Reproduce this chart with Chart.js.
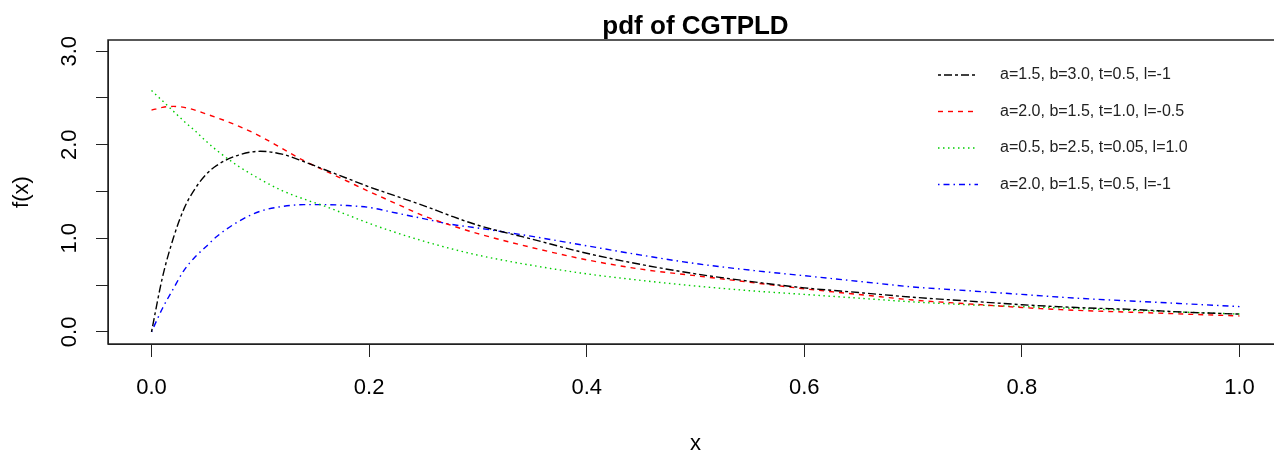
<!DOCTYPE html>
<html>
<head>
<meta charset="utf-8">
<script src="https://cdn.jsdelivr.net/npm/chart.js@4"></script>
<style>
html, body { margin: 0; padding: 0; background: #fff; overflow: hidden; }
#wrap { width: 1274px; height: 455px; overflow: hidden; }
</style>
</head>
<body>
<div id="wrap"><canvas id="chart1" width="1300" height="455"></canvas></div>
<script>
const xs = [0, 0.01, 0.02, 0.03, 0.04, 0.05, 0.06, 0.08, 0.10, 0.12, 0.14, 0.16, 0.18, 0.20, 0.225, 0.25, 0.275,
    0.30, 0.35, 0.40, 0.45, 0.50, 0.55, 0.60, 0.65, 0.70, 0.75, 0.80, 0.85, 0.90, 0.95, 1.00];

const black_y = [0, 0.58, 1.0, 1.32, 1.53, 1.68, 1.78, 1.89, 1.93, 1.90, 1.82, 1.73, 1.64, 1.55, 1.45, 1.35, 1.24,
    1.14, 0.99, 0.84, 0.72, 0.62, 0.54, 0.47, 0.42, 0.37, 0.33, 0.29, 0.26, 0.24, 0.21, 0.19];
const red_y = [2.37, 2.40, 2.41, 2.40, 2.37, 2.33, 2.29, 2.20, 2.09, 1.96, 1.83, 1.72, 1.61, 1.50, 1.37, 1.24, 1.14,
    1.05, 0.90, 0.77, 0.67, 0.60, 0.53, 0.46, 0.40, 0.34, 0.30, 0.26, 0.23, 0.21, 0.19, 0.17];
const green_y = [2.58, 2.47, 2.36, 2.25, 2.15, 2.04, 1.94, 1.77, 1.63, 1.51, 1.42, 1.34, 1.25, 1.16, 1.06, 0.97, 0.89,
    0.82, 0.71, 0.62, 0.55, 0.49, 0.44, 0.40, 0.36, 0.32, 0.29, 0.27, 0.25, 0.23, 0.21, 0.19];
const blue_y = [0, 0.25, 0.46, 0.66, 0.80, 0.91, 1.02, 1.18, 1.29, 1.34, 1.36, 1.36, 1.35, 1.33, 1.27, 1.21, 1.15,
    1.11, 1.02, 0.92, 0.82, 0.73, 0.66, 0.60, 0.54, 0.48, 0.44, 0.40, 0.36, 0.33, 0.30, 0.27];

const labels = ['a=1.5, b=3.0, t=0.5, l=-1', 'a=2.0, b=1.5, t=1.0, l=-0.5', 'a=0.5, b=2.5, t=0.05, l=1.0', 'a=2.0, b=1.5, t=0.5, l=-1'];
const xTicks = [0, 0.2, 0.4, 0.6, 0.8, 1.0];
const yTicks = [0, 0.5, 1.0, 1.5, 2.0, 2.5, 3.0];

const toPts = (ys) => ys.map((y, i) => ({ x: xs[i], y: y }));

Chart.defaults.font.family = "'Liberation Sans', Arial, sans-serif";
Chart.defaults.color = '#000';

// R-style: box round the plot and a legend inside it, no frame
const boxAndLegend = {
    id: 'boxAndLegend',
    afterDraw(chart) {
        const ctx = chart.ctx;
        const a = chart.chartArea;
        ctx.save();
        ctx.strokeStyle = '#222';
        ctx.lineWidth = 1.5;
        ctx.strokeRect(a.left, a.top, a.right - a.left, a.bottom - a.top);

        ctx.font = "16px 'Liberation Sans', Arial, sans-serif";
        ctx.textBaseline = 'middle';
        ctx.textAlign = 'left';
        chart.data.datasets.forEach((ds, i) => {
            const y = a.top + 35 + i * 36.5;
            ctx.strokeStyle = ds.borderColor;
            ctx.lineWidth = 1.4;
            ctx.setLineDash(ds.borderDash);
            ctx.beginPath();
            ctx.moveTo(a.right - 345, y);
            ctx.lineTo(a.right - 305, y);
            ctx.stroke();
            ctx.setLineDash([]);
            ctx.fillStyle = '#222';
            ctx.fillText(ds.label, a.right - 283, y);
        });
        ctx.restore();
    }
};

const chart1 = document.getElementById('chart1').getContext('2d');
const Chart1 = new Chart(chart1, {
    type: 'line',
    data: {
        datasets: [
            { label: labels[0], data: toPts(black_y), borderColor: '#000000', borderDash: [3, 3, 8, 3] },
            { label: labels[1], data: toPts(red_y), borderColor: '#FF0000', borderDash: [5, 5] },
            { label: labels[2], data: toPts(green_y), borderColor: '#00CD00', borderDash: [1.5, 3.5] },
            { label: labels[3], data: toPts(blue_y), borderColor: '#0000FF', borderDash: [1.5, 4, 6, 4] }
        ].map((d) => Object.assign(d, { borderWidth: 1.4, pointRadius: 0, fill: false, cubicInterpolationMode: 'monotone' }))
    },
    options: {
        responsive: false,
        animation: false,
        devicePixelRatio: 1,
        layout: { padding: { top: 2, right: 17, left: 0, bottom: 0 } },
        plugins: {
            legend: { display: false },
            tooltip: { enabled: false },
            title: {
                display: true,
                text: 'pdf of CGTPLD',
                fullSize: false,
                color: '#000',
                font: { size: 26, weight: 'bold', lineHeight: 1 },
                padding: { top: 12, bottom: 0 }
            }
        },
        scales: {
            x: {
                type: 'linear',
                min: -0.04,
                max: 1.04,
                afterBuildTicks: (s) => { s.ticks = xTicks.map((v) => ({ value: v })); },
                afterFit: (s) => { s.height = 111; },
                grid: { drawOnChartArea: false, tickLength: 13, color: '#222' },
                border: { color: '#222', width: 1 },
                ticks: { padding: 18, autoSkip: false, maxRotation: 0, font: { size: 22 }, callback: (v) => v.toFixed(1) },
                title: { display: true, text: 'x', font: { size: 22, lineHeight: 1 }, padding: { top: 0, bottom: 0 } }
            },
            y: {
                type: 'linear',
                min: -0.13,
                max: 3.12,
                afterBuildTicks: (s) => { s.ticks = yTicks.map((v) => ({ value: v })); },
                afterFit: (s) => { s.width = 108; },
                grid: { drawOnChartArea: false, tickLength: 12, color: '#222' },
                border: { color: '#222', width: 1 },
                ticks: {
                    padding: 11, autoSkip: false, minRotation: 90, maxRotation: 90, crossAlign: 'center',
                    font: { size: 22 },
                    callback: (v) => (Number.isInteger(v) ? v.toFixed(1) : '')
                },
                title: { display: true, text: 'f(x)', font: { size: 22, lineHeight: 1 }, padding: { top: 11, bottom: 0 } }
            }
        }
    },
    plugins: [boxAndLegend]
});
</script>
</body>
</html>
